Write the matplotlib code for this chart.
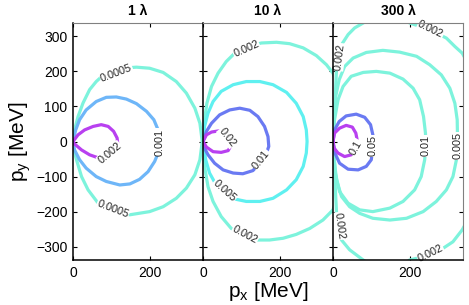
import matplotlib
matplotlib.use("Agg")
import matplotlib.pyplot as plt

plt.rcParams['font.family'] = ['Liberation Sans', 'DejaVu Sans']

titles = ["1 \u03bb", "10 \u03bb", "300 \u03bb"]
xticks = [0, 200]
yticks = [-300, -200, -100, 0, 100, 200, 300]

AQUA = "#7df3dc"
CYAN = "#5ff0f0"
LBLUE = "#6eb6f8"
BLUE = "#6a7af2"
PURPLE = "#b840f0"

# ---- panel 1 (1 lambda) contours [MeV]
p1_c0005_x = [0, 4, 13, 26, 43, 60, 73, 112, 151, 164, 198, 233, 267, 293, 315, 328, 334,
              328, 315, 293, 267, 233, 198, 147, 103, 65, 39, 22, 9, 2, 0]
p1_c0005_y = [0, 33, 71, 110, 148, 171, 184, 200, 211, 212, 209, 197, 171, 138, 95, 52, 0,
              -52, -95, -133, -162, -186, -200, -209, -200, -176, -138, -100, -52, -24, 0]
p1_c001_x = [0, 7, 17, 34, 60, 86, 112, 138, 164, 190, 209, 220, 224,
             220, 211, 194, 172, 147, 121, 86, 60, 34, 17, 4, 0]
p1_c001_y = [0, 33, 62, 90, 114, 126, 127, 121, 108, 86, 62, 33, 0,
             -33, -57, -86, -108, -121, -124, -114, -100, -76, -52, -24, 0]
p1_c002_x = [0, 13, 30, 52, 73, 91, 105, 114, 116, 103, 86, 69, 43, 22, 4, 0]
p1_c002_y = [0, 19, 33, 43, 48, 43, 29, 10, -10, -33, -46, -48, -38, -24, -7, 0]

# ---- panel 2 (10 lambda)
p2_c002_x = [0, 4, 10, 22, 39, 60, 82, 112, 151, 190, 224, 259, 293, 319, 336, 353, 362,
             353, 336, 310, 276, 241, 207, 172, 138, 103, 73, 47, 26, 13, 4, 0]
p2_c002_y = [0, 62, 109, 157, 195, 228, 252, 271, 281, 283, 279, 267, 245, 219, 195, 138, 0,
             -138, -195, -224, -248, -265, -276, -281, -281, -269, -248, -214, -171, -129, -71, 0]
p2_c005_x = [0, 4, 13, 26, 47, 78, 112, 147, 181, 216, 241, 259, 267, 269,
             267, 259, 241, 216, 181, 147, 112, 86, 56, 34, 17, 7, 0]
p2_c005_y = [0, 43, 81, 114, 143, 162, 171, 171, 162, 140, 109, 71, 33, 0,
             -33, -71, -109, -138, -162, -171, -171, -165, -143, -124, -90, -52, 0]
p2_c01_x = [0, 9, 22, 43, 69, 95, 121, 142, 159, 168, 170, 164, 151, 129, 103, 78, 52, 30, 13, 4, 0]
p2_c01_y = [0, 29, 52, 76, 90, 95, 89, 71, 43, 14, -14, -33, -57, -83, -92, -90, -81, -62, -38, -19, 0]
p2_c02_x = [0, 9, 22, 39, 52, 67, 73, 65, 47, 26, 9, 0]
p2_c02_y = [0, 19, 27, 30, 30, 14, -10, -26, -31, -29, -16, 0]

# ---- panel 3 (300 lambda)
p3_c002_x = [0, 4, 7, 9, 13, 22, 39, 56, 78, 110, 160, 198, 250, 293, 315, 334, 360, 385,
             360, 334, 310, 284, 250, 198, 160, 110, 78, 43, 22, 13, 9, 7, 4, 0]
p3_c002_y = [0, 81, 157, 205, 243, 276, 305, 324, 338, 360, 372, 338, 319, 295, 271, 252, 200, 0,
             -200, -252, -286, -305, -324, -338, -372, -360, -338, -309, -281, -243, -200, -157, -81, 0]
p3_c005_x = [0, 3, 7, 16, 30, 52, 86, 129, 172, 216, 250, 280, 302, 315, 321, 322,
             319, 310, 293, 267, 233, 190, 147, 103, 69, 43, 22, 9, 3, 0]
p3_c005_y = [0, 62, 129, 176, 214, 238, 254, 260, 255, 243, 219, 190, 152, 109, 62, 0,
             -52, -100, -138, -171, -200, -219, -224, -219, -205, -186, -157, -109, -52, 0]
p3_c01_x = [0, 4, 13, 26, 47, 78, 112, 147, 181, 207, 224, 234, 239, 240,
            237, 228, 211, 181, 147, 103, 69, 39, 17, 6, 0]
p3_c01_y = [0, 62, 119, 157, 186, 197, 200, 195, 178, 152, 119, 71, 24, -14,
            -52, -100, -138, -171, -190, -200, -195, -176, -143, -90, 0]
p3_c05_x = [0, 4, 16, 34, 60, 82, 97, 103, 103, 99, 86, 65, 39, 17, 5, 0]
p3_c05_y = [0, 33, 57, 73, 78, 69, 48, 19, -14, -52, -71, -81, -79, -62, -33, 0]
p3_c1_x = [0, 4, 17, 34, 50, 59, 62, 59, 47, 30, 13, 3, 0]
p3_c1_y = [0, 24, 38, 46, 41, 24, 7, -14, -38, -43, -33, -19, 0]

# contour labels: text, px, py, rotation
p1_labels = [("0.0005", 112, 195, 21), ("0.0005", 103, -193, -21),
             ("0.001", 224, -2, 90), ("0.002", 95, -33, 40)]
p2_labels = [("0.002", 112, 264, 24), ("0.002", 108, -267, -28),
             ("0.005", 56, -140, -42), ("0.01", 151, -52, 51), ("0.02", 62, 12, -52)]
p3_labels = [("0.002", 17, 241, 82), ("0.002", 17, -241, -82),
             ("0.002", 252, 319, -26), ("0.002", 252, -319, 26),
             ("0.01", 240, -12, 90), ("0.005", 322, -12, 90),
             ("0.05", 102, -12, 90), ("0.1", 59, -17, 60)]

panels = [
    [(p1_c0005_x, p1_c0005_y, AQUA), (p1_c001_x, p1_c001_y, LBLUE), (p1_c002_x, p1_c002_y, PURPLE)],
    [(p2_c002_x, p2_c002_y, AQUA), (p2_c005_x, p2_c005_y, CYAN), (p2_c01_x, p2_c01_y, BLUE), (p2_c02_x, p2_c02_y, PURPLE)],
    [(p3_c002_x, p3_c002_y, AQUA), (p3_c005_x, p3_c005_y, AQUA), (p3_c01_x, p3_c01_y, AQUA),
     (p3_c05_x, p3_c05_y, BLUE), (p3_c1_x, p3_c1_y, PURPLE)],
]
labels = [p1_labels, p2_labels, p3_labels]

fig = plt.figure(figsize=(4.69, 3.05), dpi=100)
W, H = 469, 305
lefts = [73, 203, 333]
axes = []
for i in range(3):
    ax = fig.add_axes([lefts[i] / W, 1 - 260 / H, 130 / W, 237 / H])
    axes.append(ax)
    for xs, ys, col in panels[i]:
        ax.plot(xs, ys, color=col, lw=2.3, solid_capstyle="round",
                solid_joinstyle="round", zorder=2)
    for txt, lx, ly, rot in labels[i]:
        ax.text(lx, ly, txt, rotation=rot, fontsize=7.8, color="#222222",
                ha="center", va="center", rotation_mode="anchor", zorder=2.3,
                bbox=dict(facecolor="white", edgecolor="none", pad=0.4))
    ax.set_xlim(0, 336)
    ax.set_ylim(-338, 338)
    ax.set_xticks(xticks)
    ax.set_yticks(yticks)
    ax.tick_params(direction="in", length=3, width=0.8, labelsize=10,
                   top=True, right=True, pad=4)
    if i > 0:
        ax.set_yticklabels([])
    ax.set_title(titles[i], fontsize=10, fontweight="bold", pad=6)
    for s in ["top", "right"]:
        ax.spines[s].set_color("#808080")
    for s in ["left", "bottom"]:
        ax.spines[s].set_linewidth(1.1)

axes[0].set_ylabel("p$_\\mathregular{y}$ [MeV]", fontsize=15, labelpad=2)
axes[1].set_xlabel("p$_\\mathregular{x}$ [MeV]", fontsize=15, labelpad=0)

fig.savefig("out.png", dpi=100)
